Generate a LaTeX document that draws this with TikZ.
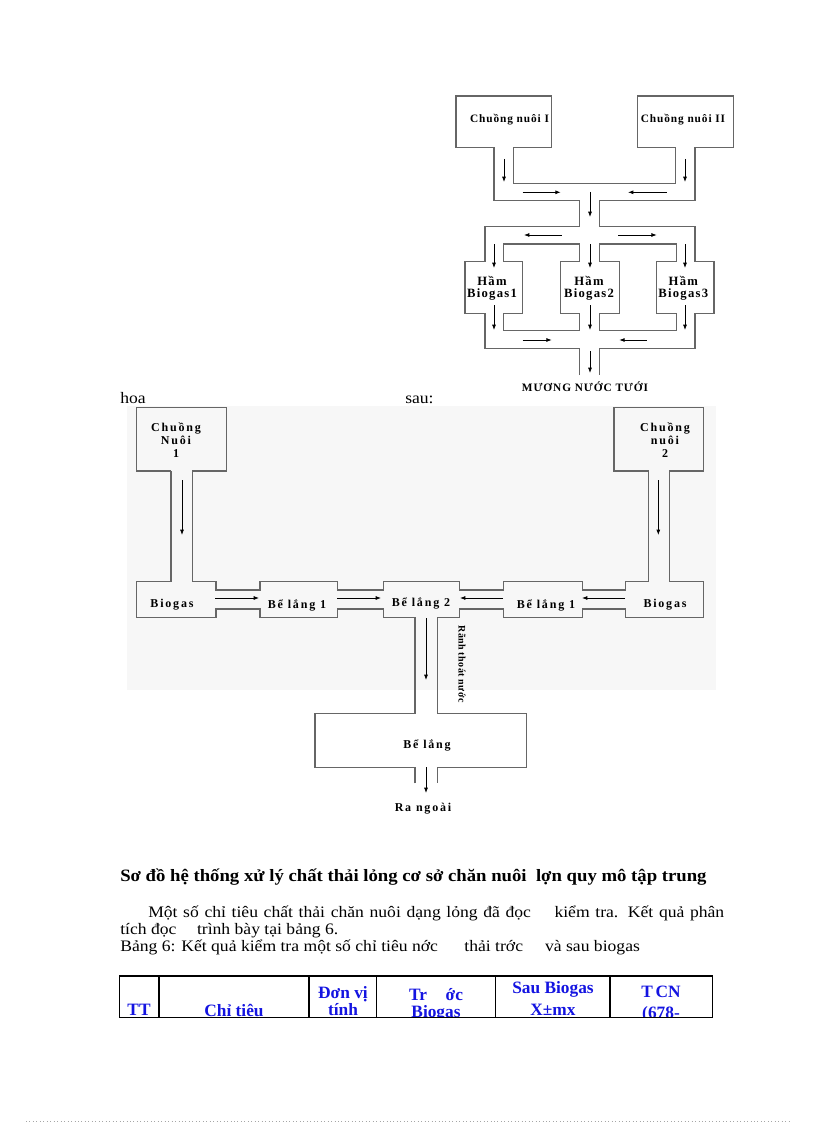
\documentclass[tikz,border=0pt]{standalone}
\usepackage{fontspec}
\setmainfont{Liberation Serif}
\newfontfamily\lblfont[LetterSpace=8]{Liberation Serif}
\newfontfamily\lblwide[LetterSpace=10]{Liberation Serif}
\newfontfamily\lblxwide[LetterSpace=15]{Liberation Serif}
\newfontfamily\lblnarrow[LetterSpace=4]{Liberation Serif}
\usetikzlibrary{arrows.meta}
\definecolor{hdrblue}{RGB}{20,20,225}
\newcommand{\widetxt}[1]{\scalebox{1.1}[1]{#1}}
\begin{document}
\begin{tikzpicture}[x=0.75pt,y=-0.75pt,
  wall/.style={draw=black!60, line width=0.9pt},
  flow/.style={-{Latex[length=4pt,width=3pt]}, line width=0.6pt, black},
  lbl/.style={font=\lblfont\bfseries\fontsize{8.5}{10}\selectfont, align=center, inner sep=0pt},
  lblh/.style={font=\lblwide\bfseries\fontsize{9.5}{8.7}\selectfont, align=center, inner sep=0pt},
  lblb/.style={font=\lblxwide\bfseries\fontsize{9}{9.8}\selectfont, align=center, inner sep=0pt},
  body/.style={font=\fontsize{12}{14}\selectfont, anchor=base west, inner sep=0pt},
  hdr/.style={font=\bfseries\fontsize{13}{13}\selectfont, text=hdrblue, align=center, inner sep=0pt, anchor=base}]
\useasboundingbox (0,0) rectangle (816,1123);
\fill[white] (0,0) rectangle (816,1123);

% ================= top diagram =================
\draw[wall] (579.3,375) -- (579.3,348.3) -- (485,348.3) -- (485,313.3) -- (465,313.3) -- (465,261.7)
  -- (485,261.7) -- (485,226.7) -- (579.3,226.7) -- (579.3,200.7) -- (494,200.7) -- (494,147.7)
  -- (456,147.7) -- (456,96) -- (551.7,96) -- (551.7,147.7) -- (513.3,147.7) -- (513.3,183.3)
  -- (675.7,183.3) -- (675.7,147.7) -- (637.3,147.7) -- (637.3,96) -- (733.3,96) -- (733.3,147.7)
  -- (695,147.7) -- (695,200.7) -- (599.3,200.7) -- (599.3,226.7) -- (695,226.7) -- (695,261.7)
  -- (714,261.7) -- (714,313.3) -- (695,313.3) -- (695,348.3) -- (599.3,348.3) -- (599.3,375);
\draw[wall] (503.3,244) -- (579.3,244) -- (579.3,261.7) -- (560.7,261.7) -- (560.7,313.3) -- (579.3,313.3)
  -- (579.3,330.7) -- (503.3,330.7) -- (503.3,313.3) -- (522.7,313.3) -- (522.7,261.7) -- (503.3,261.7) -- cycle;
\draw[wall] (599.3,244) -- (676.7,244) -- (676.7,261.7) -- (656.7,261.7) -- (656.7,313.3) -- (676.7,313.3)
  -- (676.7,330.7) -- (599.3,330.7) -- (599.3,313.3) -- (619.3,313.3) -- (619.3,261.7) -- (599.3,261.7) -- cycle;

\draw[flow] (504,159) -- (504,182);
\draw[flow] (685,159) -- (685,182);
\draw[flow] (522.7,192.3) -- (560.7,192.3);
\draw[flow] (666.7,192.3) -- (628,192.3);
\draw[flow] (590,192) -- (590,217);
\draw[flow] (561.7,235) -- (524,235);
\draw[flow] (618.3,235) -- (656.7,235);
\foreach \xx in {494,590,685} {
  \draw[flow] (\xx,244) -- (\xx,268);
  \draw[flow] (\xx,305) -- (\xx,330);
}
\draw[flow] (522.7,340) -- (551.7,340);
\draw[flow] (646.7,340) -- (619.3,340);
\draw[flow] (590,351) -- (590,373);

\node[lbl] (ch1) at (509.5,120) {Chuồng nuôi I};
\node[lbl] (ch2) at (683,120) {Chuồng nuôi II};
\node[lblh] (h1) at (492,288) {Hầm\\Biogas1};
\node[lblh] (h2) at (589,288) {Hầm\\Biogas2};
\node[lblh] (h3) at (683.3,288) {Hầm\\Biogas3};
\node[lbl] (mnt) at (585,387) {MƯƠNG NƯỚC TƯỚI};

% ================= bottom diagram =================
\fill[black!3] (127,406) rectangle (716,690);
\node[body] (hoa) at (120,403) {\widetxt{hoa}};
\node[body] (sau) at (405,403) {\widetxt{sau:}};

\draw[wall] (171,471) -- (136.7,471) -- (136.7,407.3) -- (226.7,407.3) -- (226.7,471) -- (192.7,471)
  -- (192.7,581.7) -- (216,581.7) -- (216,590) -- (260,590) -- (260,581.7) -- (337.7,581.7)
  -- (337.7,590) -- (383.3,590) -- (383.3,581.7) -- (459.3,581.7) -- (459.3,590) -- (503.3,590)
  -- (503.3,581.7) -- (582.3,581.7) -- (582.3,590) -- (625.7,590) -- (625.7,581.7) -- (648.3,581.7)
  -- (648.3,471) -- (614,471) -- (614,407.3) -- (703.3,407.3) -- (703.3,471) -- (669.3,471)
  -- (669.3,581.7) -- (703.3,581.7) -- (703.3,617.3) -- (625.7,617.3) -- (625.7,609) -- (582.3,609)
  -- (582.3,617.3) -- (503.3,617.3) -- (503.3,609) -- (459.3,609) -- (459.3,617.3) -- (437.3,617.3)
  -- (437.3,713.3) -- (526.7,713.3) -- (526.7,767.7) -- (437.3,767.7) -- (437.3,783.3);
\draw[wall] (415,783.3) -- (415,767.7) -- (315,767.7) -- (315,713.3) -- (415,713.3) -- (415,617.3)
  -- (383.3,617.3) -- (383.3,609) -- (337.7,609) -- (337.7,617.3) -- (260,617.3) -- (260,609)
  -- (216,609) -- (216,617.3) -- (136.7,617.3) -- (136.7,581.7) -- (171,581.7) -- (171,471);

\draw[flow] (182,480) -- (182,535);
\draw[flow] (658.3,480) -- (658.3,535);
\draw[flow] (215,598) -- (259,598);
\draw[flow] (337,598) -- (381,598);
\draw[flow] (625,598) -- (582,598);
\draw[flow] (503,598) -- (460,598);
\draw[flow] (426,618) -- (426,680);
\draw[flow] (426,767) -- (426,793);

\node[lblb] (cn1) at (176,440) {Chuồng\\Nuôi\\1};
\node[lblb] (cn2) at (665,440) {Chuồng\\nuôi\\2};
\node[lblb] (bg1) at (172,605) {Biogas};
\node[lblb] (bl1) at (297,605) {Bể lắng 1};
\node[lblb] (bl2) at (421,603.5) {Bể lắng 2};
\node[lblb] (bl1r) at (546,605) {Bể lắng 1};
\node[lblb] (bg2) at (665,605) {Biogas};
\node[lblb] (bl) at (427,745) {Bể lắng};
\node[lblb] (ra) at (423,809) {Ra ngoài};
\node[font=\lblnarrow\bfseries\fontsize{7.5}{9}\selectfont, inner sep=0pt, rotate=-90] (rtn) at (462,664) {Rãnh thoát nước};

% ================= text =================
\node[body, font=\bfseries\fontsize{13}{15}\selectfont] (cap) at (120,881) {\scalebox{1.08}[1]{Sơ đồ hệ thống xử lý chất thải lỏng cơ sở chăn nuôi\ \ lợn quy mô tập trung}};
\node[body] (p1) at (148,917) {\widetxt{\makebox[392.7pt][s]{Một số chỉ tiêu chất thải chăn nuôi dạng lỏng đã đọc\hspace{16pt}kiểm tra. Kết quả phân}}};
\node[body] (p2) at (120,934) {\widetxt{tích đọc\hspace{14pt}trình bày tại bảng 6.}};
\node[body] (p3) at (120,951) {\widetxt{Bảng 6: Kết quả kiểm tra một số chỉ tiêu nớc\hspace{18pt}thải trớc\hspace{15pt}và sau biogas}};

% ================= table =================
\begin{scope}
\clip (119.3,976) rectangle (712.7,1017.7);
\node[hdr] (tt) at (139,1015) {TT};
\node[hdr] (ct) at (234,1016) {Chỉ tiêu};
\node[hdr] (dv1) at (343,998) {Đơn vị};
\node[hdr] (dv2) at (343,1015) {tính};
\node[hdr] (tr1) at (436,1000) {Tr\hspace{14pt}ớc};
\node[hdr] (tr2) at (436,1017) {Biogas};
\node[hdr] (sb1) at (553,993) {Sau Biogas};
\node[hdr] (sb2) at (553,1015) {X±mx};
\node[hdr] (tc1) at (661,997) {T\,CN};
\node[hdr] (tc2) at (661,1018) {(678-};
\end{scope}
\draw[black, line width=0.8pt] (119.3,976) rectangle (712.7,1017.7);
\foreach \xx in {159,309,376.7,495.7,610} \draw[black, line width=0.8pt] (\xx,976) -- (\xx,1017.7);

\draw[black!35, dotted, line width=0.6pt] (26,1121) -- (792,1121);
\end{tikzpicture}
\end{document}
